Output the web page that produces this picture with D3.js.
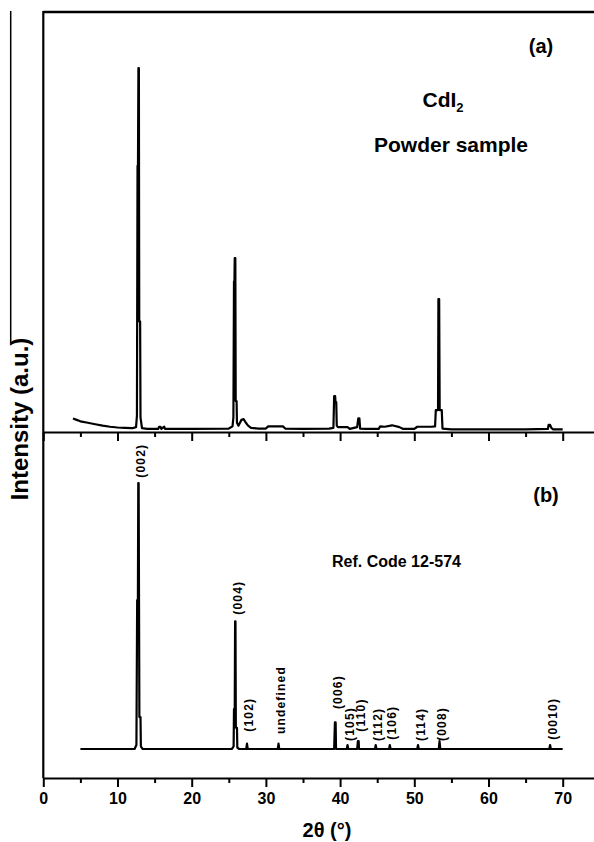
<!DOCTYPE html>
<html><head><meta charset="utf-8">
<script src="https://cdn.jsdelivr.net/npm/d3@7"></script>
<style>
html,body{margin:0;padding:0;background:#fff;}
svg{display:block;font-family:"Liberation Sans",Arial,sans-serif;}
</style></head>
<body><svg id="c" width="594" height="842"></svg>
<script>
// Panel (a): measured powder pattern (2θ, intensity a.u.)
const sampleTheta = [4.0,4.5,5.0,6.0,7.0,8.0,9.0,10.0,11.0,12.0,12.5,12.62,12.7,12.76,12.82,12.88,12.93,13.05,13.1,13.3,14.0,15.5,15.6,15.8,15.9,16.3,16.4,16.5,20.0,25.0,25.5,25.62,25.7,25.76,25.8,25.88,25.93,26.05,26.1,26.3,26.7,27.0,27.3,27.6,28.0,29.0,30.0,30.3,32.3,32.6,35.0,38.5,39.1,39.2,39.25,39.33,39.38,39.48,39.55,39.7,41.0,41.3,42.3,42.45,42.6,42.7,43.5,45.2,45.4,46.0,47.0,48.0,48.5,50.0,50.4,52.3,52.8,52.9,53.2,53.25,53.35,53.42,53.7,53.8,55.0,60.0,65.0,68.0,68.1,68.3,68.5,68.7,70.0];
const sampleInt   = [3.2,2.8,2.4,2.0,1.6,1.2,0.9,0.7,0.6,0.5,0.8,4.0,73,73,100,100,30,30,3.5,0.5,0.3,0.3,0.9,0.9,0.3,0.9,0.3,0.3,0.3,0.4,1.0,3.5,41,41,47.5,47.5,8,8,2.0,1.2,2.8,3.0,2.0,1.2,0.6,0.4,0.4,1.0,1.0,0.4,0.3,0.4,0.6,9.4,9.4,9.4,7.7,7.7,1.2,0.8,0.8,0.3,0.8,3.2,3.2,0.4,0.3,0.3,1.0,0.9,1.3,0.8,0.3,0.3,0.9,0.9,1.0,5.5,5.5,36.2,36.2,5.5,5.5,0.4,0.2,0.2,0.2,0.3,1.4,1.4,0.5,0.2,0.2];

// Panel (b): reference pattern Ref. Code 12-574
const refTheta = [5.0,12.3,12.55,12.65,12.75,12.8,12.85,12.95,13.1,13.15,13.4,25.4,25.65,25.7,25.8,25.85,25.9,25.95,26.1,26.15,26.4,27.35,27.45,27.55,31.6,31.7,31.8,39.2,39.3,39.4,39.45,40.9,41.0,41.1,42.3,42.4,42.5,42.55,44.7,44.8,44.9,46.6,46.7,46.8,50.4,50.5,50.6,53.3,53.4,53.5,68.2,68.3,68.4,70.0];
const refInt   = [0,0,1.5,56,56,100,100,12,12,1,0,0,1,15,15,48,48,8,8,0.5,0,0,2,0,0,2,0,0,10,10,0,0,1.5,0,0,3,3,0,0,1.5,0,0,1.5,0,0,1.5,0,0,3,0,0,1.5,0,0];

// Peak annotations (hkl), peak position and label level (intensity units)
const hklLabels = ["(002)","(004)","(102)","undefined","(006)","(105)","(110)","(112)","(106)","(114)","(008)","(0010)"];
const hklTheta  = [12.8,25.85,27.45,31.7,39.35,41.0,42.45,44.8,46.7,50.5,53.4,68.3];
const hklLevel  = [102,50.5,6.5,5.6,15,3,6.5,3,3.5,3,3,3.5];

const majorTicks = [0,10,20,30,40,50,60,70];
const minorTicks = [5,15,25,35,45,55,65];

const svg = d3.select("#c");
const x = d3.scaleLinear().domain([0,75]).range([43.3,599.8]);
const ya = d3.scaleLinear().domain([-0.55,115.5]).range([432,12]);
const yb = d3.scaleLinear().domain([-10.9,119.2]).range([778,432]);

// stray left line
svg.append("line").attr("x1",10.7).attr("x2",10.7).attr("y1",11).attr("y2",343)
  .attr("stroke","#000").attr("stroke-width",1.5);

// frame
svg.append("line").attr("x1",x(0)).attr("x2",600).attr("y1",12).attr("y2",12)
  .attr("stroke","#000").attr("stroke-width",2.5);
svg.append("line").attr("x1",x(0)).attr("x2",x(0)).attr("y1",11).attr("y2",778)
  .attr("stroke","#000").attr("stroke-width",2.2);

function drawAxis(yPos, labels){
  const gMaj = svg.append("g").attr("transform",`translate(0,${yPos})`)
    .call(d3.axisBottom(x).tickValues(majorTicks).tickSize(9).tickSizeOuter(0).tickPadding(6)
      .tickFormat(labels ? d3.format("d") : ""));
  gMaj.select(".domain").attr("stroke-width",2.2);
  gMaj.selectAll(".tick line").attr("stroke-width",2);
  gMaj.selectAll("text").attr("font-size",16).attr("font-weight","bold")
    .attr("font-family","'Liberation Sans',Arial,sans-serif").attr("fill","#000");
  const gMin = svg.append("g").attr("transform",`translate(0,${yPos})`)
    .call(d3.axisBottom(x).tickValues(minorTicks).tickSize(5).tickSizeOuter(0).tickFormat(""));
  gMin.select(".domain").remove();
  gMin.selectAll(".tick line").attr("stroke-width",2);
}
drawAxis(432,false);
drawAxis(778,true);

// data lines
const sampleData = sampleTheta.map((t,i)=>[t,sampleInt[i]]);
const refData = refTheta.map((t,i)=>[t,refInt[i]]);
svg.append("path").datum(sampleData)
  .attr("d", d3.line().x(d=>x(d[0])).y(d=>ya(d[1])))
  .attr("fill","none").attr("stroke","#000").attr("stroke-width",2.2).attr("stroke-linejoin","round");
svg.append("path").datum(refData)
  .attr("d", d3.line().x(d=>x(d[0])).y(d=>yb(d[1])))
  .attr("fill","none").attr("stroke","#000").attr("stroke-width",2.2).attr("stroke-linejoin","round");

// hkl labels
hklLabels.forEach((lab,i)=>{
  const px = x(hklTheta[i]) + 6.5, py = yb(hklLevel[i]);
  svg.append("text").attr("transform",`translate(${px},${py}) rotate(-90)`)
    .attr("text-anchor","start").attr("font-size",12).attr("font-weight","bold")
    .attr("letter-spacing",1.2).text(lab);
});

// annotations
svg.append("text").attr("x",541).attr("y",53).attr("text-anchor","middle")
  .attr("font-size",20).attr("font-weight","bold").text("(a)");
const cd = svg.append("text").attr("x",443).attr("y",107).attr("text-anchor","middle")
  .attr("font-size",21).attr("font-weight","bold");
cd.append("tspan").text("CdI");
cd.append("tspan").attr("font-size",13).attr("dy",5).text("2");
svg.append("text").attr("x",451).attr("y",152).attr("text-anchor","middle")
  .attr("font-size",21).attr("font-weight","bold").text("Powder sample");
svg.append("text").attr("x",546).attr("y",502).attr("text-anchor","middle")
  .attr("font-size",20).attr("font-weight","bold").text("(b)");
svg.append("text").attr("x",332).attr("y",567).attr("text-anchor","start")
  .attr("font-size",16).attr("font-weight","bold").text("Ref. Code 12-574");
svg.append("text").attr("transform","translate(28,419) rotate(-90)").attr("text-anchor","middle")
  .attr("font-size",24).attr("font-weight","bold").text("Intensity (a.u.)");
svg.append("text").attr("x",327).attr("y",837).attr("text-anchor","middle")
  .attr("font-size",20).attr("font-weight","bold").text("2θ (°)");
</script></body></html>
